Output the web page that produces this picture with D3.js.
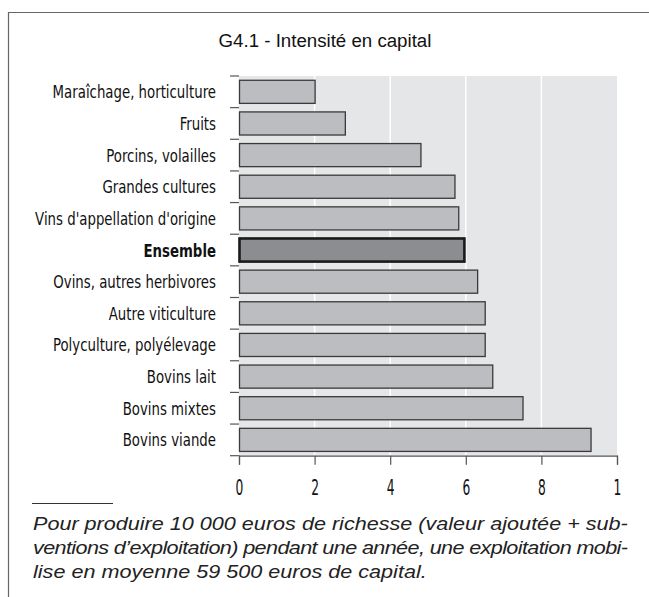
<!DOCTYPE html>
<html><head><meta charset="utf-8">
<script src="https://cdn.jsdelivr.net/npm/d3@7"></script>
<style>body{margin:0;background:#fff}svg{display:block}</style>
</head><body>
<script>
const categories = ["Maraîchage, horticulture","Fruits","Porcins, volailles","Grandes cultures","Vins d'appellation d'origine","Ensemble","Ovins, autres herbivores","Autre viticulture","Polyculture, polyélevage","Bovins lait","Bovins mixtes","Bovins viande"];
const values = [2.0,2.8,4.8,5.7,5.8,5.95,6.3,6.5,6.5,6.7,7.5,9.3];
const highlight = "Ensemble";
const xTicks = [0,2,4,6,8,10];
const xTickLabels = ["0","2","4","6","8","1"];
const title = "G4.1 - Intensité en capital";
const note = ["Pour produire 10 000 euros de richesse (valeur ajoutée + sub-","ventions d\u2019exploitation) pendant une année, une exploitation mobi-","lise en moyenne 59 500 euros de capital."];

const W=649,H=597;
const svg=d3.select("body").append("svg").attr("width",W).attr("height",H);
const cond="'DejaVu Sans Condensed','DejaVu Sans',sans-serif";

function squeeze(sel, sx){
  sel.each(function(){
    const t=d3.select(this); const ax=+t.attr("x");
    t.attr("transform",`translate(${ax},0) scale(${sx},1) translate(${-ax},0)`);
  });
}

svg.append("path").attr("d",`M8.5,${H} V12.5 H${W}`).attr("fill","none").attr("stroke","#666").attr("stroke-width",1.2);

const x=d3.scaleLinear().domain([0,10]).range([239,617]);
const y=d3.scaleBand().domain(categories).range([76,455.7]).paddingInner(0.27).paddingOuter(0.135);

const tt=svg.append("text").attr("x",325).attr("y",47).attr("text-anchor","middle")
  .attr("font-family","'Liberation Sans',Arial,sans-serif").attr("font-size",19).attr("fill","#111").text(title);
squeeze(tt, 213/tt.node().getComputedTextLength());

svg.append("rect").attr("x",x(0)).attr("y",76).attr("width",x(10)-x(0)).attr("height",455.7-76).attr("fill","#e5e6e8");
svg.selectAll(".grid").data(xTicks.slice(1,-1)).enter().append("line")
  .attr("x1",d=>x(d)).attr("x2",d=>x(d)).attr("y1",76).attr("y2",455.7).attr("stroke","#fff").attr("stroke-width",1.5);

svg.selectAll(".bar").data(categories).enter().append("rect")
  .attr("x",x(0)+0.5).attr("y",d=>y(d)).attr("height",y.bandwidth())
  .attr("width",(d,i)=>x(values[i])-x(0))
  .attr("fill",d=>d===highlight?"#8c8d90":"#bcbdc1")
  .attr("stroke",d=>d===highlight?"#1a1a1a":"#3a3a3a")
  .attr("stroke-width",d=>d===highlight?2.6:1.3);

const step=y.step();
const bounds=d3.range(categories.length+1).map(i=>76+i*step);
svg.selectAll(".yt").data(bounds).enter().append("line")
  .attr("x1",230).attr("x2",239).attr("y1",d=>d).attr("y2",d=>d).attr("stroke","#555").attr("stroke-width",1.2);

const yl=svg.selectAll(".yl").data(categories).enter().append("text")
  .attr("x",216).attr("y",d=>y(d)+y.bandwidth()/2+6.5).attr("text-anchor","end")
  .attr("font-family",cond).attr("font-size",18)
  .attr("font-weight",d=>d===highlight?"bold":"normal")
  .attr("fill","#111").text(d=>d);
const refW=yl.filter(d=>d==="Vins d'appellation d'origine").node().getComputedTextLength();
squeeze(yl, 181/refW);

const xa=svg.append("g").attr("transform","translate(0,455.7)")
  .call(d3.axisBottom(x).tickValues(xTicks).tickSize(9).tickFormat((d,i)=>xTickLabels[i]));
xa.select(".domain").attr("stroke","#555").attr("stroke-width",1.2);
xa.selectAll(".tick line").attr("stroke","#555").attr("stroke-width",1.2);
xa.selectAll(".tick text").attr("font-family",cond).attr("font-size",22).attr("fill","#111")
  .attr("y",39.5).attr("dy",null).attr("x",0)
  .attr("transform","scale(0.62,1)");

svg.append("line").attr("x1",32).attr("x2",113).attr("y1",503.5).attr("y2",503.5).attr("stroke","#333").attr("stroke-width",1);
const nt=svg.selectAll(".note").data(note).enter().append("text")
  .attr("x",33).attr("y",(d,i)=>530+i*24)
  .attr("font-family","'Liberation Sans',Arial,sans-serif").attr("font-style","italic").attr("font-size",18).attr("fill","#222")
  .text(d=>d);
const nw=nt.nodes().map(n=>n.getComputedTextLength());
const ns=595/nw[0];
squeeze(nt, ns);
nt.filter((d,i)=>i===1).attr("textLength",nw[0]).attr("lengthAdjust","spacing");
</script>
</body></html>
